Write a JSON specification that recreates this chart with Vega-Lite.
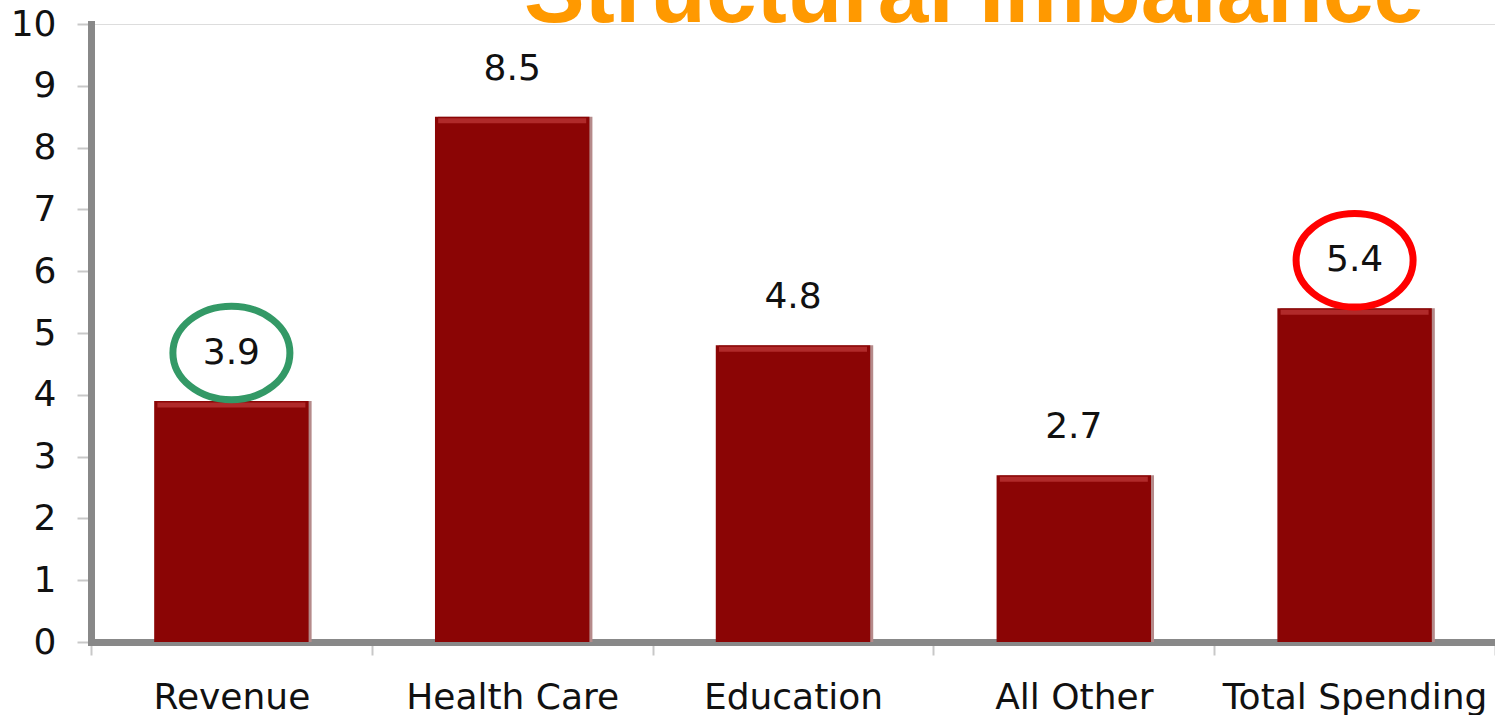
{
  "$schema": "https://vega.github.io/schema/vega-lite/v6.json",
  "width": 1404,
  "height": 618,
  "autosize": {"type": "none"},
  "padding": {"left": 91, "top": 24, "right": 0, "bottom": 73},
  "background": "white",
  "title": {
    "text": "Structural Imbalance",
    "font": "Liberation Sans",
    "fontSize": 91,
    "fontWeight": "bold",
    "color": "#FF9900",
    "anchor": "middle",
    "frame": "group",
    "dx": 181,
    "offset": -107,
    "baseline": "alphabetic"
  },
  "data": {
    "values": [
      {"category": "Revenue", "value": 3.9},
      {"category": "Health Care", "value": 8.5},
      {"category": "Education", "value": 4.8},
      {"category": "All Other", "value": 2.7},
      {"category": "Total Spending", "value": 5.4}
    ]
  },
  "encoding": {
    "x": {
      "field": "category",
      "type": "nominal",
      "sort": null,
      "scale": {"paddingInner": 0, "paddingOuter": 0},
      "axis": {
        "title": null,
        "labelAngle": 0,
        "labelFont": "DejaVu Sans",
        "labelFontSize": 36,
        "labelColor": "#111111",
        "labelPadding": 25,
        "labelLimit": 0,
        "tickBand": "extent",
        "tickSize": 13,
        "tickColor": "#c8c8c8",
        "tickWidth": 2,
        "domainColor": "#888888",
        "domainWidth": 7,
        "domainCap": "square"
      }
    },
    "y": {
      "field": "value",
      "type": "quantitative",
      "scale": {"domain": [0, 10], "nice": false},
      "axis": {
        "title": null,
        "values": [0, 1, 2, 3, 4, 5, 6, 7, 8, 9, 10],
        "grid": false,
        "labelFont": "DejaVu Sans",
        "labelFontSize": 36,
        "labelColor": "#111111",
        "labelPadding": 21,
        "tickSize": 14,
        "tickColor": "#c8c8c8",
        "tickWidth": 2,
        "domainColor": "#888888",
        "domainWidth": 7,
        "domainCap": "square"
      }
    }
  },
  "layer": [
    {"mark": {"type": "bar", "color": "#B58A8A", "xOffset": 3, "width": {"band": 0.55}}},
    {"mark": {"type": "bar", "color": "#8B0505", "width": {"band": 0.55}}},
    {"mark": {"type": "tick", "color": "#C13A3A", "thickness": 5, "size": 148, "yOffset": 4}},
    {
      "mark": {"type": "text", "dy": -48, "baseline": "middle", "fontSize": 36, "font": "DejaVu Sans", "color": "#111111"},
      "encoding": {"text": {"field": "value", "type": "quantitative", "format": ".1f"}}
    },
    {
      "transform": [{"filter": "datum.category === 'Revenue' || datum.category === 'Total Spending'"}],
      "mark": {
        "type": "point",
        "shape": "M -1 0 A 1 0.8 0 1 0 1 0 A 1 0.8 0 1 0 -1 0 Z",
        "size": 13689,
        "strokeWidth": 7,
        "filled": false,
        "opacity": 1,
        "yOffset": -48
      },
      "encoding": {
        "color": {
          "field": "category",
          "type": "nominal",
          "scale": {"domain": ["Revenue", "Total Spending"], "range": ["#339966", "#FF0000"]},
          "legend": null
        }
      }
    }
  ]
}
